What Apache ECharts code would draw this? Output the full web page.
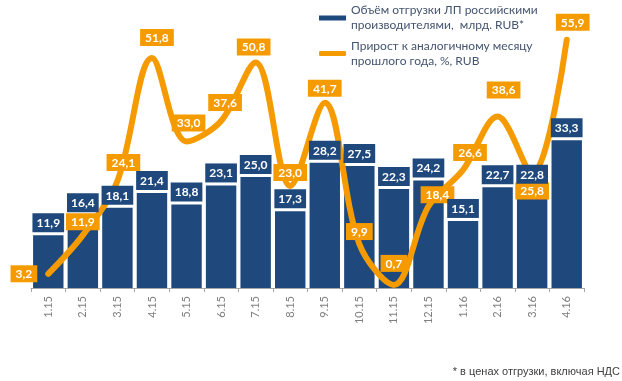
<!DOCTYPE html>
<html>
<head>
<meta charset="utf-8">
<script src="https://cdn.jsdelivr.net/npm/echarts@6/dist/echarts.min.js"></script>
<style>html,body{margin:0;padding:0;background:#fff;}#c{width:622px;height:381px;}</style>
</head>
<body>
<div id="c"></div>
<script>
const categories = ['1.15','2.15','3.15','4.15','5.15','6.15','7.15','8.15','9.15','10.15','11.15','12.15','1.16','2.16','3.16','4.16'];
const shipmentVolume = [11.9,16.4,18.1,21.4,18.8,23.1,25.0,17.3,28.2,27.5,22.3,24.2,15.1,22.7,22.8,33.3];
const growthPct = [3.2,11.9,24.1,51.8,33.0,37.6,50.8,23.0,41.7,9.9,0.7,18.4,26.6,38.6,25.8,55.9];
const barName = 'Объём отгрузки ЛП российскими\nпроизводителями,  млрд. RUB*';
const lineName = 'Прирост к аналогичному месяцу\nпрошлого года, %, RUB';
const footnote = '* в ценах отгрузки, включая НДС';

const BLUE = '#1F497D';
const ORANGE = '#F59B00';
const FONT = 'Lato';
const fmt = v => v.toFixed(1).replace('.', ',');

// label placement tweaks for the growth line (style only)
const lineLabelTweaks = {
  0: {position: 'left', distance: 10},
  1: {distance: 4},
  2: {distance: 9, offset: [6, 0]},
  3: {distance: 11, offset: [5, 0]},
  4: {distance: 9, offset: [2, 0]},
  5: {distance: 9, offset: [4, 0]},
  6: {distance: 6, offset: [-2, 0]},
  7: {distance: 4},
  8: {distance: 5},
  9: {distance: 3},
  10: {distance: 12},
  11: {distance: 2, offset: [9, 0]},
  12: {distance: 8, offset: [7, 0]},
  13: {distance: 17, offset: [6, 0]},
  14: {position: 'bottom', distance: 8},
  15: {distance: 8, offset: [6, 0]}
};

const lineData = growthPct.map((v, i) => {
  const t = lineLabelTweaks[i];
  return t ? {value: v, label: Object.assign({}, t)} : v;
});

const barLabel = {
  show: true, position: 'top', distance: 3, formatter: p => fmt(p.value),
  color: '#fff', fontWeight: 'bold', fontFamily: FONT, fontSize: 12,
  backgroundColor: BLUE, padding: [4, 4, 3, 4]
};

const chart = echarts.init(document.getElementById('c'), null, {renderer: 'canvas'});
chart.setOption({
  animation: false,
  backgroundColor: '#fff',
  textStyle: {fontFamily: FONT},
  title: {
    text: footnote, right: 2, top: 366, padding: 0,
    textStyle: {fontFamily: 'Liberation Sans', fontSize: 11, fontWeight: 'normal', color: '#404040'}
  },
  legend: {
    orient: 'vertical', left: 319, top: -4.5, padding: 0, itemGap: -9.5,
    itemWidth: 27, itemHeight: 5,
    textStyle: {fontFamily: FONT, fontSize: 12, color: '#44546F', lineHeight: 15, padding: [15, 0, 0, 0]},
    data: [
      {name: barName, icon: 'rect'},
      {name: lineName, icon: 'roundRect'}
    ]
  },
  grid: {left: 31, right: 38, top: 21.6, bottom: 93, outerBoundsMode: 'none'},
  xAxis: {
    type: 'category', data: categories, boundaryGap: true,
    axisLine: {lineStyle: {color: '#A6A6A6', width: 1}},
    axisTick: {show: true, length: 4, lineStyle: {color: '#A6A6A6'}},
    axisLabel: {rotate: 90, margin: 8, color: '#7F7F7F', fontSize: 11, fontFamily: FONT}
  },
  yAxis: {type: 'value', min: 0, max: 60, show: false, splitLine: {show: false}},
  series: [
    {
      name: barName, type: 'bar', data: shipmentVolume, barCategoryGap: '12%', barGap: '-100%',
      itemStyle: {color: BLUE},
      z: 2
    },
    {
      name: lineName, type: 'line', data: lineData, smooth: 0.34,
      symbol: 'circle', symbolSize: 2, showSymbol: true,
      itemStyle: {color: ORANGE},
      lineStyle: {color: ORANGE, width: 6, cap: 'round'},
      label: {
        show: true, position: 'top', distance: 8, formatter: p => fmt(p.value),
        color: '#fff', fontWeight: 'bold', fontFamily: FONT, fontSize: 12,
        backgroundColor: ORANGE, padding: [3, 5, 2, 5]
      },
      z: 3
    },
    {
      name: 'barLabels', type: 'bar', data: shipmentVolume, barCategoryGap: '12%', barGap: '-100%',
      itemStyle: {color: 'rgba(0,0,0,0)'}, silent: true,
      label: barLabel,
      z: 5
    }
  ]
});
</script>
</body>
</html>
